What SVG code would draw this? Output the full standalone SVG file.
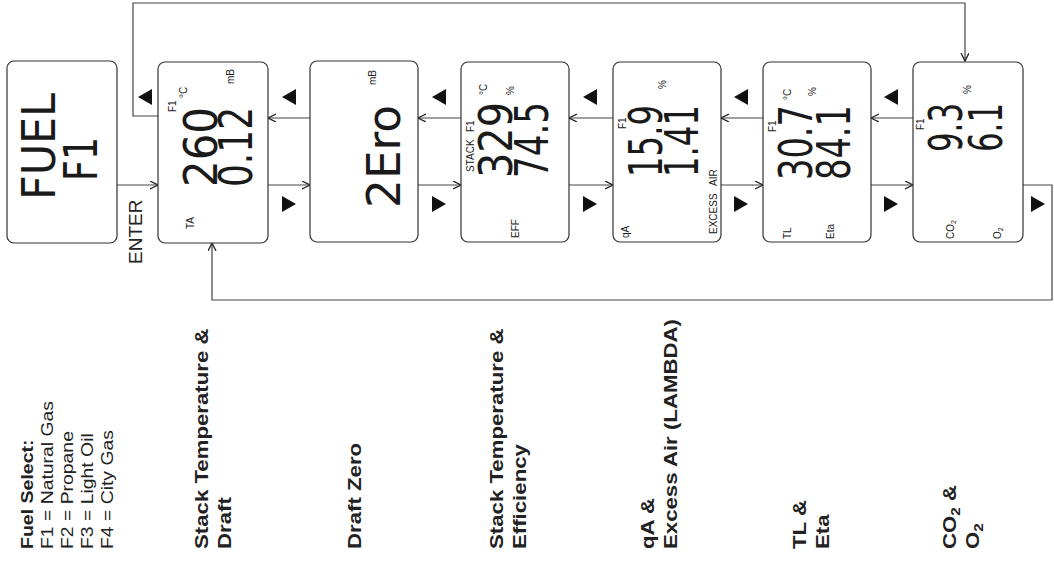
<svg xmlns="http://www.w3.org/2000/svg" width="1054" height="577" viewBox="0 0 1054 577">
<style>
.box{fill:#fff;stroke:#333;stroke-width:1.2}
.lcd{font-family:"DejaVu Sans","Liberation Sans",sans-serif;font-size:46px;fill:#1a1a1a}
.lbl{font-family:"Liberation Sans",Arial,sans-serif;font-size:10px;fill:#222}
.cap{font-family:"Liberation Sans",Arial,sans-serif;font-size:19px;fill:#222}
.fs{font-size:17px}
.b{font-weight:bold}
.con{fill:none;stroke:#444;stroke-width:1.2}
.tri{fill:#111}
</style>
<defs>
<marker id="ah" markerWidth="10" markerHeight="10" refX="8" refY="4" orient="auto" markerUnits="userSpaceOnUse">
<path d="M0,0 L8,4 L0,8" fill="none" stroke="#222" stroke-width="1.3"/>
</marker>
<path id="tl" d="M0,0 L14,-8 L14,8Z"/>
<path id="tr" d="M0,-8 L14,0 L0,8Z"/>
</defs>

<g id="connectors">
<path class="con" d="M117,185 H158" marker-end="url(#ah)"/>
<path class="con" d="M268,185 H310" marker-end="url(#ah)"/>
<path class="con" d="M418,185 H461" marker-end="url(#ah)"/>
<path class="con" d="M569,185 H613" marker-end="url(#ah)"/>
<path class="con" d="M721,185 H763" marker-end="url(#ah)"/>
<path class="con" d="M871,185 H913" marker-end="url(#ah)"/>
<path class="con" d="M310,118 H268" marker-end="url(#ah)"/>
<path class="con" d="M461,118 H418" marker-end="url(#ah)"/>
<path class="con" d="M613,118 H569" marker-end="url(#ah)"/>
<path class="con" d="M763,118 H721" marker-end="url(#ah)"/>
<path class="con" d="M913,118 H871" marker-end="url(#ah)"/>
<path class="con" d="M158,116 H133 V3 H965 V61" marker-end="url(#ah)"/>
<path class="con" d="M1023,185 H1052 V300 H212 V243" marker-end="url(#ah)"/>
<text class="cap" font-size="14.5" transform="translate(142,264) rotate(-90)">ENTER</text>
</g>

<g id="triangles" class="tri">
<use href="#tl" x="138" y="97"/>
<use href="#tl" x="282" y="97"/>
<use href="#tl" x="432" y="97"/>
<use href="#tl" x="583" y="97"/>
<use href="#tl" x="734" y="97"/>
<use href="#tl" x="884" y="97"/>
<use href="#tr" x="282" y="204"/>
<use href="#tr" x="432" y="204"/>
<use href="#tr" x="583" y="204"/>
<use href="#tr" x="734" y="204"/>
<use href="#tr" x="884" y="204"/>
<use href="#tr" x="1031" y="204"/>
</g>

<g id="fuel">
<rect class="box" x="7" y="61" width="110" height="182" rx="7"/>
<text class="lcd" transform="translate(55,200) rotate(-90)" textLength="107" lengthAdjust="spacingAndGlyphs">FUEL</text>
<text class="lcd" transform="translate(97,181) rotate(-90)" textLength="44" lengthAdjust="spacingAndGlyphs">F1</text>
</g>

<g id="stack-draft">
<rect class="box" x="158" y="62" width="110" height="181" rx="7"/>
<text class="lcd" transform="translate(217,187) rotate(-90)" textLength="80" lengthAdjust="spacingAndGlyphs">260</text>
<text class="lcd" transform="translate(252,187) rotate(-90)" textLength="80" lengthAdjust="spacingAndGlyphs">0.12</text>
<text class="lbl" transform="translate(176,112) rotate(-90)">F1</text>
<text class="lbl" transform="translate(187,98) rotate(-90)">°C</text>
<text class="lbl" transform="translate(234,84) rotate(-90)">mB</text>
<text class="lbl" transform="translate(194,229) rotate(-90)">TA</text>
</g>

<g id="draft-zero">
<rect class="box" x="310" y="61" width="108" height="181" rx="7"/>
<text class="lcd" transform="translate(400,208) rotate(-90)" textLength="103" lengthAdjust="spacingAndGlyphs">2Ero</text>
<text class="lbl" transform="translate(376,85) rotate(-90)">mB</text>
</g>

<g id="stack-eff">
<rect class="box" x="461" y="62" width="108" height="180" rx="7"/>
<text class="lcd" transform="translate(512,178) rotate(-90)" textLength="76" lengthAdjust="spacingAndGlyphs">329</text>
<text class="lcd" transform="translate(548,178) rotate(-90)" textLength="76" lengthAdjust="spacingAndGlyphs">74.5</text>
<text class="lbl" transform="translate(474,172) rotate(-90)">STACK</text>
<text class="lbl" transform="translate(474,132) rotate(-90)">F1</text>
<text class="lbl" transform="translate(487,95) rotate(-90)">°C</text>
<text class="lbl" transform="translate(514,95) rotate(-90)">%</text>
<text class="lbl" transform="translate(519,238) rotate(-90)">EFF</text>
</g>

<g id="qa-excess">
<rect class="box" x="613" y="62" width="108" height="180" rx="7"/>
<text class="lcd" transform="translate(662,177) rotate(-90)" textLength="72" lengthAdjust="spacingAndGlyphs">15.9</text>
<text class="lcd" transform="translate(698,177) rotate(-90)" textLength="72" lengthAdjust="spacingAndGlyphs">1.41</text>
<text class="lbl" transform="translate(626,129) rotate(-90)">F1</text>
<text class="lbl" transform="translate(666,89) rotate(-90)">%</text>
<text class="lbl" transform="translate(629,238) rotate(-90)">qA</text>
<text class="lbl" transform="translate(717,234) rotate(-90)">EXCESS</text>
<text class="lbl" transform="translate(717,186) rotate(-90)">AIR</text>
</g>

<g id="tl-eta">
<rect class="box" x="763" y="62" width="108" height="180" rx="7"/>
<text class="lcd" transform="translate(812,180) rotate(-90)" textLength="75" lengthAdjust="spacingAndGlyphs">30.7</text>
<text class="lcd" transform="translate(850,180) rotate(-90)" textLength="75" lengthAdjust="spacingAndGlyphs">84.1</text>
<text class="lbl" transform="translate(776,132) rotate(-90)">F1</text>
<text class="lbl" transform="translate(791,100) rotate(-90)">°C</text>
<text class="lbl" transform="translate(816,96) rotate(-90)">%</text>
<text class="lbl" transform="translate(791,239) rotate(-90)">TL</text>
<text class="lbl" transform="translate(834,239) rotate(-90)">Eta</text>
</g>

<g id="co2-o2">
<rect class="box" x="913" y="62" width="110" height="180" rx="7"/>
<text class="lcd" transform="translate(962,152) rotate(-90)" textLength="49" lengthAdjust="spacingAndGlyphs">9.3</text>
<text class="lcd" transform="translate(1002,152) rotate(-90)" textLength="49" lengthAdjust="spacingAndGlyphs">6.1</text>
<text class="lbl" transform="translate(924,130) rotate(-90)">F1</text>
<text class="lbl" transform="translate(971,94) rotate(-90)">%</text>
<text class="lbl" transform="translate(954,239) rotate(-90)">CO<tspan dy="2" font-size="7">2</tspan></text>
<text class="lbl" transform="translate(1001,239) rotate(-90)">O<tspan dy="2" font-size="7">2</tspan></text>
</g>

<g id="captions">
<text class="cap fs b" transform="translate(33,549) rotate(-90) scale(1.15,1)">Fuel Select:</text>
<text class="cap fs" transform="translate(53,549) rotate(-90) scale(1.14,1)">F1 = Natural Gas</text>
<text class="cap fs" transform="translate(73,549) rotate(-90) scale(1.14,1)">F2 = Propane</text>
<text class="cap fs" transform="translate(93,549) rotate(-90) scale(1.14,1)">F3 = Light Oil</text>
<text class="cap fs" transform="translate(113,549) rotate(-90) scale(1.14,1)">F4 = City Gas</text>
<text class="cap b" transform="translate(208,549) rotate(-90) scale(1.17,1)">Stack Temperature &amp;</text>
<text class="cap b" transform="translate(231,549) rotate(-90) scale(1.17,1)">Draft</text>
<text class="cap b" transform="translate(361,549) rotate(-90) scale(1.17,1)">Draft Zero</text>
<text class="cap b" transform="translate(503,549) rotate(-90) scale(1.17,1)">Stack Temperature &amp;</text>
<text class="cap b" transform="translate(526,549) rotate(-90) scale(1.17,1)">Efficiency</text>
<text class="cap b" transform="translate(654,549) rotate(-90) scale(1.17,1)">qA &amp;</text>
<text class="cap b" transform="translate(677,549) rotate(-90) scale(1.17,1)">Excess Air (LAMBDA)</text>
<text class="cap b" transform="translate(806,549) rotate(-90) scale(1.17,1)">TL &amp;</text>
<text class="cap b" transform="translate(829,549) rotate(-90) scale(1.17,1)">Eta</text>
<text class="cap b" transform="translate(956,549) rotate(-90) scale(1.17,1)">CO<tspan dy="3.5" font-size="13">2</tspan><tspan dy="-3.5"> &amp;</tspan></text>
<text class="cap b" transform="translate(979,549) rotate(-90) scale(1.17,1)">O<tspan dy="3.5" font-size="13">2</tspan></text>
</g>
</svg>
